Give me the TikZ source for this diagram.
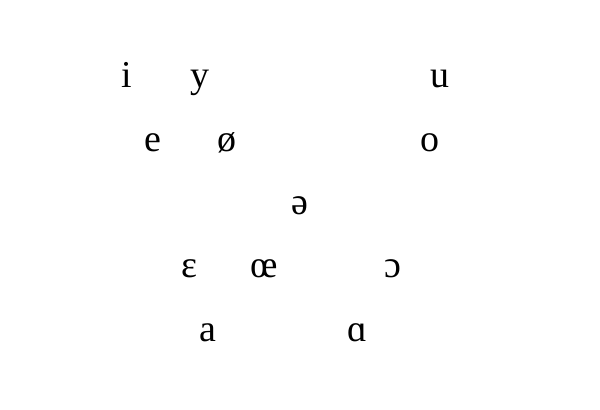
\documentclass[tikz,border=0pt]{standalone}
\usepackage{fontspec}
\setmainfont{Liberation Serif}

\begin{document}
\begin{tikzpicture}
\useasboundingbox (0, 0) rectangle (15, 10.25);
\begin{scope}[every node/.style={anchor=base,inner sep=0pt,font=\fontsize{27}{32}\selectfont}]
    % close
    \node (close_i) at (3.175, 8.05) {i};
    \node (close_y) at (5.0, 8.05) {y};
    \node (close_u) at (11.0, 8.05) {u};

    % close-mid
    \node (mid_e) at (3.825, 6.45) {e};
    \node (mid_oslash) at (5.675, 6.45) {ø};
    \node (mid_o) at (10.75, 6.45) {o};

    \node (schwa) at (7.5, 4.875) {ə};

    % open-mid
    \node (open_eps) at (4.725, 3.3) {ɛ};
    \node (open_oe) at (6.6, 3.3) {œ};
    \node (open_oc) at (9.825, 3.3) {ɔ};

    % open
    \node (low_a) at (5.2, 1.7) {a};
    \node (low_alpha) at (8.925, 1.7) {ɑ};
\end{scope}
\end{tikzpicture}
\end{document}
